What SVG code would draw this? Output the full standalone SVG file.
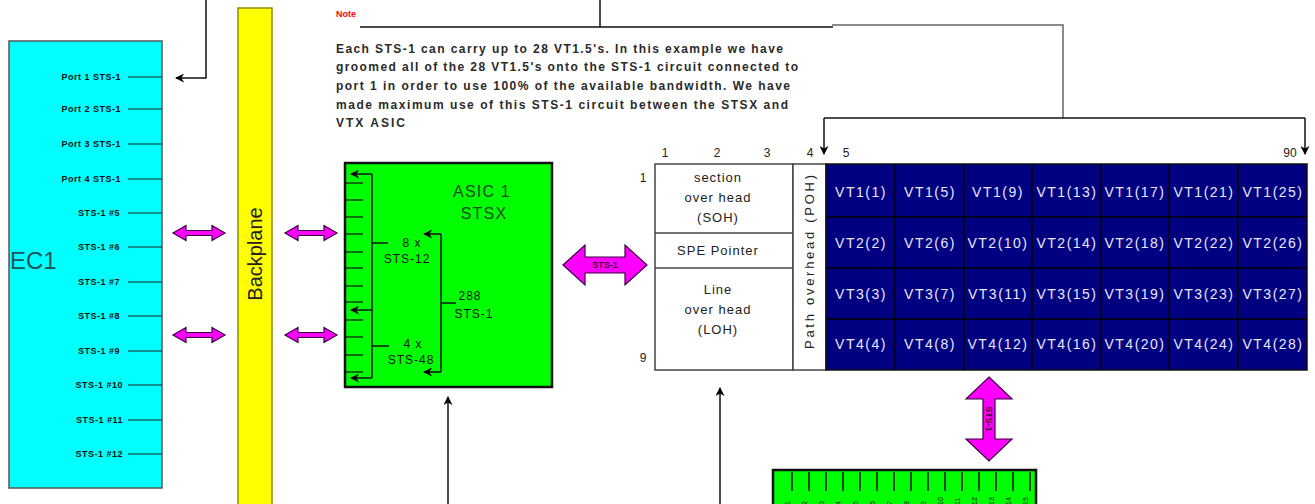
<svg xmlns="http://www.w3.org/2000/svg" width="1315" height="504" viewBox="0 0 1315 504">
<defs>
<style>
.t{font-family:"Liberation Sans",Arial,sans-serif;}
.port{font-family:"Liberation Sans",Arial,sans-serif;font-size:9px;font-weight:bold;letter-spacing:0.5px;fill:#111;text-anchor:end;}
.pl{stroke:#222;stroke-width:1.2;}
.fat{fill:#ff00ff;stroke:#3a0040;stroke-width:1.2;}
.ln{stroke:#111;stroke-width:1.5;fill:none;}
.gl{stroke:#666;stroke-width:1.5;fill:none;}
.vt{font-family:"Liberation Sans",Arial,sans-serif;font-size:14px;letter-spacing:1.5px;fill:#e8e8ff;text-anchor:middle;}
.oh{font-family:"Liberation Sans",Arial,sans-serif;font-size:13px;letter-spacing:1px;fill:#222;text-anchor:middle;}
.num{font-family:"Liberation Sans",Arial,sans-serif;font-size:12px;fill:#222;text-anchor:middle;}
.note{font-family:"Liberation Sans",Arial,sans-serif;font-size:12px;font-weight:bold;fill:#2a2a2a;}
.asic{font-family:"Liberation Sans",Arial,sans-serif;font-size:12px;letter-spacing:1px;fill:#111;text-anchor:middle;}
.al{font-family:"Liberation Sans",Arial,sans-serif;font-size:9px;font-weight:bold;fill:#3a0040;text-anchor:middle;}
</style>
<marker id="ah" viewBox="0 0 10 10" refX="9" refY="5" markerWidth="9" markerHeight="9" orient="auto" markerUnits="userSpaceOnUse">
<path d="M0,0 L10,5 L0,10 L3,5 Z" fill="#000"/>
</marker>
<marker id="ahs" viewBox="0 0 10 10" refX="9" refY="5" markerWidth="9" markerHeight="9" orient="auto" markerUnits="userSpaceOnUse">
<path d="M0,0 L10,5 L0,10 L3,5 Z" fill="#000"/>
</marker>
</defs>
<rect width="1315" height="504" fill="#fff"/>

<g id="ec1">
<rect x="9" y="41" width="153" height="447" fill="#00ffff" stroke="#555" stroke-width="1.5"/>
<text class="t" x="10" y="269" font-size="24" fill="#1a5555">EC1</text>
<g>
<text class="port" x="121" y="80">Port 1 STS-1</text><line class="pl" x1="128" y1="77" x2="162" y2="77"/>
<text class="port" x="121" y="112">Port 2 STS-1</text><line class="pl" x1="128" y1="109" x2="162" y2="109"/>
<text class="port" x="121" y="147">Port 3 STS-1</text><line class="pl" x1="128" y1="144" x2="162" y2="144"/>
<text class="port" x="121" y="182">Port 4 STS-1</text><line class="pl" x1="128" y1="179" x2="162" y2="179"/>
<text class="port" x="120" y="216">STS-1 #5</text><line class="pl" x1="128" y1="213" x2="162" y2="213"/>
<text class="port" x="120" y="250">STS-1 #6</text><line class="pl" x1="128" y1="247" x2="162" y2="247"/>
<text class="port" x="120" y="285">STS-1 #7</text><line class="pl" x1="128" y1="282" x2="162" y2="282"/>
<text class="port" x="120" y="319">STS-1 #8</text><line class="pl" x1="128" y1="316" x2="162" y2="316"/>
<text class="port" x="120" y="354">STS-1 #9</text><line class="pl" x1="128" y1="351" x2="162" y2="351"/>
<text class="port" x="123" y="388">STS-1 #10</text><line class="pl" x1="128" y1="385" x2="162" y2="385"/>
<text class="port" x="123" y="423">STS-1 #11</text><line class="pl" x1="128" y1="420" x2="162" y2="420"/>
<text class="port" x="123" y="457">STS-1 #12</text><line class="pl" x1="128" y1="454" x2="162" y2="454"/>
</g>
</g>

<g id="backplane">
<rect x="238" y="8" width="34" height="500" fill="#ffff00" stroke="#8c8c00" stroke-width="1.5"/>
<text class="t" font-size="20" fill="#222" text-anchor="middle" transform="translate(262,254) rotate(-90)">Backplane</text>
</g>

<g id="asic1">
<rect x="345" y="163" width="207" height="224" fill="#00ff00" stroke="#111" stroke-width="2.5"/>
<text class="t" x="482" y="197" font-size="16" letter-spacing="1.2" fill="#1a4a1a" text-anchor="middle">ASIC 1</text>
<text class="t" x="484" y="219" font-size="16" letter-spacing="1.2" fill="#1a4a1a" text-anchor="middle">STSX</text>
<g stroke="#111" stroke-width="1.2">
<line x1="346" y1="183" x2="363" y2="183"/>
<line x1="346" y1="200" x2="363" y2="200"/>
<line x1="346" y1="217" x2="363" y2="217"/>
<line x1="346" y1="234" x2="363" y2="234"/>
<line x1="346" y1="252" x2="363" y2="252"/>
<line x1="346" y1="268" x2="363" y2="268"/>
<line x1="346" y1="286" x2="363" y2="286"/>
<line x1="346" y1="302" x2="363" y2="302"/>
<line x1="346" y1="320" x2="363" y2="320"/>
<line x1="346" y1="337" x2="363" y2="337"/>
<line x1="346" y1="355" x2="363" y2="355"/>
<line x1="346" y1="372" x2="363" y2="372"/>
</g>
<g class="ln" stroke-width="1.3">
<line x1="372" y1="174" x2="372" y2="378"/>
<line x1="372" y1="174" x2="351" y2="174" marker-end="url(#ahs)"/>
<line x1="372" y1="310" x2="351" y2="310" marker-end="url(#ahs)"/>
<line x1="372" y1="378" x2="351" y2="378" marker-end="url(#ahs)"/>
<line x1="372" y1="243" x2="388" y2="243"/>
<line x1="372" y1="346" x2="389" y2="346"/>
<line x1="441" y1="234" x2="441" y2="372"/>
<line x1="441" y1="234" x2="424" y2="234" marker-end="url(#ahs)"/>
<line x1="441" y1="372" x2="424" y2="372" marker-end="url(#ahs)"/>
<line x1="441" y1="303" x2="456" y2="303"/>
</g>
<text class="asic" x="412" y="247">8 x</text>
<text class="asic" x="407" y="263">STS-12</text>
<text class="asic" x="413" y="348">4 x</text>
<text class="asic" x="411" y="364">STS-48</text>
<text class="asic" x="470" y="300">288</text>
<text class="asic" x="474" y="318">STS-1</text>
</g>

<g id="note">
<text class="t" x="336" y="17" font-size="9" font-weight="bold" fill="#ff0000">Note</text>
<text class="note" x="336" y="53" textLength="447" lengthAdjust="spacing">Each STS-1 can carry up to 28 VT1.5's. In this example we have</text>
<text class="note" x="336" y="71" textLength="462" lengthAdjust="spacing">groomed all of the 28 VT1.5's onto the STS-1 circuit connected to</text>
<text class="note" x="336" y="90" textLength="454" lengthAdjust="spacing">port 1 in order  to use 100% of the available bandwidth. We have</text>
<text class="note" x="336" y="109" textLength="452" lengthAdjust="spacing">made maximum use of this STS-1 circuit between the STSX and</text>
<text class="note" x="336" y="127" textLength="69" lengthAdjust="spacing">VTX ASIC</text>
</g>

<g id="frame">
<text class="num" x="665" y="157">1</text>
<text class="num" x="717" y="157">2</text>
<text class="num" x="767" y="157">3</text>
<text class="num" x="810" y="157">4</text>
<text class="num" x="846" y="157">5</text>
<text class="num" x="1290" y="157">90</text>
<text class="num" x="643" y="182">1</text>
<text class="num" x="643" y="362">9</text>
<rect x="655" y="164" width="138" height="206" fill="#fff" stroke="#444" stroke-width="1.5"/>
<line x1="655" y1="233" x2="793" y2="233" stroke="#444" stroke-width="1.5"/>
<line x1="655" y1="268" x2="793" y2="268" stroke="#444" stroke-width="1.5"/>
<text class="oh" x="718" y="182">section</text>
<text class="oh" x="718" y="202">over head</text>
<text class="oh" x="718" y="222">(SOH)</text>
<text class="oh" x="718" y="255">SPE Pointer</text>
<text class="oh" x="718" y="294">Line</text>
<text class="oh" x="718" y="314">over head</text>
<text class="oh" x="718" y="334">(LOH)</text>
<rect x="793" y="164" width="33" height="206" fill="#fff" stroke="#444" stroke-width="1.5"/>
<text class="t" font-size="13" fill="#222" text-anchor="middle" textLength="174" lengthAdjust="spacing" transform="translate(814,262) rotate(-90)">Path overhead (POH)</text>
<rect x="826" y="164" width="481" height="206" fill="#000080" stroke="#111" stroke-width="1.5"/>
<g stroke="#000" stroke-width="1.5">
<line x1="895" y1="164" x2="895" y2="370"/>
<line x1="964" y1="164" x2="964" y2="370"/>
<line x1="1032" y1="164" x2="1032" y2="370"/>
<line x1="1101" y1="164" x2="1101" y2="370"/>
<line x1="1169" y1="164" x2="1169" y2="370"/>
<line x1="1238" y1="164" x2="1238" y2="370"/>
<line x1="826" y1="217" x2="1307" y2="217"/>
<line x1="826" y1="268" x2="1307" y2="268"/>
<line x1="826" y1="319" x2="1307" y2="319"/>
</g>
<text class="vt" x="861" y="197">VT1(1)</text>
<text class="vt" x="930" y="197">VT1(5)</text>
<text class="vt" x="998" y="197">VT1(9)</text>
<text class="vt" x="1067" y="197">VT1(13)</text>
<text class="vt" x="1135" y="197">VT1(17)</text>
<text class="vt" x="1204" y="197">VT1(21)</text>
<text class="vt" x="1273" y="197">VT1(25)</text>
<text class="vt" x="861" y="248">VT2(2)</text>
<text class="vt" x="930" y="248">VT2(6)</text>
<text class="vt" x="998" y="248">VT2(10)</text>
<text class="vt" x="1067" y="248">VT2(14)</text>
<text class="vt" x="1135" y="248">VT2(18)</text>
<text class="vt" x="1204" y="248">VT2(22)</text>
<text class="vt" x="1273" y="248">VT2(26)</text>
<text class="vt" x="861" y="299">VT3(3)</text>
<text class="vt" x="930" y="299">VT3(7)</text>
<text class="vt" x="998" y="299">VT3(11)</text>
<text class="vt" x="1067" y="299">VT3(15)</text>
<text class="vt" x="1135" y="299">VT3(19)</text>
<text class="vt" x="1204" y="299">VT3(23)</text>
<text class="vt" x="1273" y="299">VT3(27)</text>
<text class="vt" x="861" y="349">VT4(4)</text>
<text class="vt" x="930" y="349">VT4(8)</text>
<text class="vt" x="998" y="349">VT4(12)</text>
<text class="vt" x="1067" y="349">VT4(16)</text>
<text class="vt" x="1135" y="349">VT4(20)</text>
<text class="vt" x="1204" y="349">VT4(24)</text>
<text class="vt" x="1273" y="349">VT4(28)</text>
</g>

<g id="vtx">
<rect x="773" y="470" width="263" height="40" fill="#00ff00" stroke="#111" stroke-width="2.5"/>
<g stroke="#111" stroke-width="1.5">
<line x1="792" y1="472" x2="792" y2="491"/>
<line x1="809" y1="472" x2="809" y2="491"/>
<line x1="826" y1="472" x2="826" y2="491"/>
<line x1="843" y1="472" x2="843" y2="491"/>
<line x1="860" y1="472" x2="860" y2="491"/>
<line x1="877" y1="472" x2="877" y2="491"/>
<line x1="894" y1="472" x2="894" y2="491"/>
<line x1="911" y1="472" x2="911" y2="491"/>
<line x1="928" y1="472" x2="928" y2="491"/>
<line x1="945" y1="472" x2="945" y2="491"/>
<line x1="962" y1="472" x2="962" y2="491"/>
<line x1="979" y1="472" x2="979" y2="491"/>
<line x1="996" y1="472" x2="996" y2="491"/>
<line x1="1013" y1="472" x2="1013" y2="491"/>
<line x1="1030" y1="472" x2="1030" y2="491"/>
</g>
<g class="t" font-size="7" fill="#111">
<text transform="translate(790,505) rotate(-90)">1</text>
<text transform="translate(807,505) rotate(-90)">2</text>
<text transform="translate(824,505) rotate(-90)">3</text>
<text transform="translate(841,505) rotate(-90)">4</text>
<text transform="translate(858,505) rotate(-90)">5</text>
<text transform="translate(875,505) rotate(-90)">6</text>
<text transform="translate(892,505) rotate(-90)">7</text>
<text transform="translate(909,505) rotate(-90)">8</text>
<text transform="translate(926,505) rotate(-90)">9</text>
<text transform="translate(943,505) rotate(-90)">10</text>
<text transform="translate(960,505) rotate(-90)">11</text>
<text transform="translate(977,505) rotate(-90)">12</text>
<text transform="translate(994,505) rotate(-90)">13</text>
<text transform="translate(1011,505) rotate(-90)">14</text>
<text transform="translate(1028,505) rotate(-90)">15</text>
</g>
</g>

<g id="connectors">
<path class="ln" d="M206,0 L206,78 L176,78" marker-end="url(#ah)"/>
<line class="ln" x1="600" y1="0" x2="600" y2="27"/>
<line class="ln" x1="360" y1="27" x2="833" y2="27"/>
<path class="gl" d="M832,25 L1063,25 L1063,118"/>
<line class="ln" x1="824" y1="118" x2="1305" y2="118" stroke="#444"/>
<line class="ln" x1="824" y1="118" x2="824" y2="154" marker-end="url(#ah)"/>
<line class="ln" x1="1305" y1="118" x2="1305" y2="154" marker-end="url(#ah)"/>
<line class="ln" x1="448" y1="504" x2="448" y2="397" marker-end="url(#ah)"/>
<line class="ln" x1="720" y1="504" x2="720" y2="388" marker-end="url(#ah)"/>
<path class="fat" d="M173,233 L186,225.5 L186,230.5 L212,230.5 L212,225.5 L225,233 L212,240.5 L212,235.5 L186,235.5 L186,240.5 Z"/>
<path class="fat" d="M173,335 L186,327.5 L186,332.5 L212,332.5 L212,327.5 L225,335 L212,342.5 L212,337.5 L186,337.5 L186,342.5 Z"/>
<path class="fat" d="M285,233 L298,225.5 L298,230.5 L324,230.5 L324,225.5 L337,233 L324,240.5 L324,235.5 L298,235.5 L298,240.5 Z"/>
<path class="fat" d="M285,335 L298,327.5 L298,332.5 L324,332.5 L324,327.5 L337,335 L324,342.5 L324,337.5 L298,337.5 L298,342.5 Z"/>
<path class="fat" d="M563,265 L585,245 L585,257 L625,257 L625,245 L647,265 L625,285 L625,273 L585,273 L585,285 Z"/>
<text class="al" x="605" y="268">STS-1</text>
<path class="fat" d="M989,377 L1012,399 L995,399 L995,439 L1012,439 L989,461 L966,439 L983,439 L983,399 L966,399 Z"/>
<text class="al" transform="translate(986,419) rotate(90)">STS-1</text>
</g>
</svg>
